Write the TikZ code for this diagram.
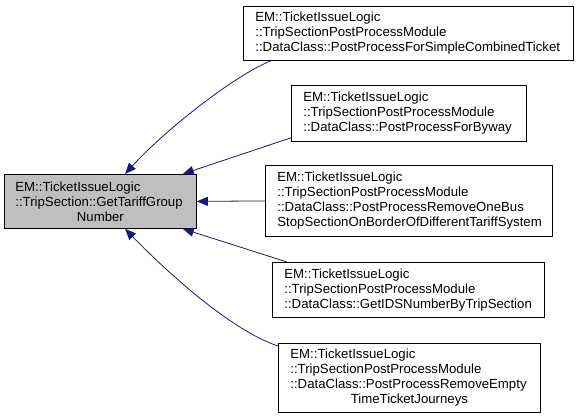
\documentclass[tikz,border=0pt]{standalone}
\usepackage{fontspec}
\setmainfont{Liberation Sans}
\usetikzlibrary{arrows.meta,calc}
\definecolor{edgeblue}{HTML}{191970}
\definecolor{mainfill}{HTML}{BFBFBF}
\hyphenpenalty=10000
\exhyphenpenalty=10000
\begin{document}
\begin{tikzpicture}[x=1pt,y=-1pt,
  box/.style={draw=black, line width=0.8pt, fill=white, inner xsep=12pt, inner ysep=0pt,
    align=left, anchor=north west,
    font={\fontsize{13.2}{15}\selectfont}},
  edge/.style={draw=edgeblue, line width=0.8pt, -{Triangle[length=11pt,width=9pt]}}]
\useasboundingbox (0,0) rectangle (579,418);

\node[box, fill=mainfill, inner xsep=11pt, text width=170pt, minimum height=54pt] (main) at (4,174)
  {EM::TicketIssueLogic\\::TripSection::GetTariffGroup\\\makebox[\linewidth]{Number}};
\node[box, text width=306pt, minimum height=54pt] (b1) at (243,6)
  {EM::TicketIssueLogic\\::TripSectionPostProcessModule\\::DataClass::PostProcessForSimpleCombinedTicket};
\node[box, text width=211pt, minimum height=56pt] (b2) at (291,85)
  {EM::TicketIssueLogic\\::TripSectionPostProcessModule\\::DataClass::PostProcessForByway};
\node[box, text width=263pt, minimum height=71pt] (b3) at (265,165)
  {EM::TicketIssueLogic\\::TripSectionPostProcessModule\\::DataClass::PostProcessRemoveOneBus\\StopSectionOnBorderOfDifferentTariffSystem};
\node[box, text width=248pt, minimum height=55pt] (b4) at (272,262)
  {EM::TicketIssueLogic\\::TripSectionPostProcessModule\\::DataClass::GetIDSNumberByTripSection};
\node[box, text width=238pt, minimum height=69pt] (b5) at (278,343)
  {EM::TicketIssueLogic\\::TripSectionPostProcessModule\\::DataClass::PostProcessRemoveEmpty\\\makebox[\linewidth]{TimeTicketJourneys}};

\draw[edge] ($(b1.south west)+(28,0)$) .. controls (235,75) and (165,130) .. ($(main.north west)+(121,0)$);
\draw[edge] ($(b2.south west)+(0,-4)$) -- ($(main.north east)+(-14,0)$);
\draw[edge] (b3.west) -- (main.east);
\draw[edge] ($(b4.north west)+(15,0)$) -- ($(main.south east)+(-14,0)$);
\draw[edge] ($(b5.north west)+(0,3)$) .. controls (230,330) and (165,270) .. ($(main.south west)+(121,0)$);
\end{tikzpicture}
\end{document}
